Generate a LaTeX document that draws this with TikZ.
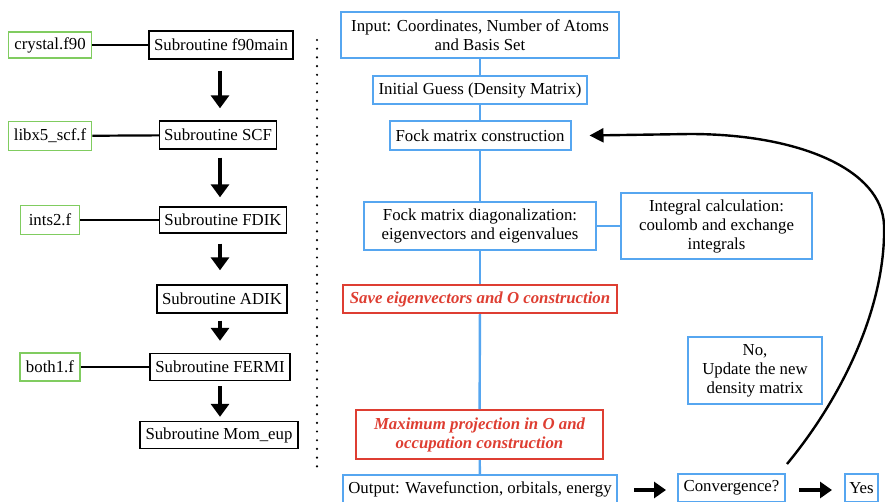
\documentclass[tikz,border=0pt]{standalone}
\usepackage{fontspec}
\setmainfont{Liberation Serif}
\newfontfamily\serifx{Liberation Serif}
\usetikzlibrary{arrows.meta}
\definecolor{bluebox}{RGB}{86,166,240}
\definecolor{redbox}{RGB}{222,62,50}
\definecolor{greenbox}{RGB}{128,204,96}
\begin{document}
\begin{tikzpicture}[x=1pt,y=-1pt,
  base/.style={font=\serifx\fontsize{16.8}{19}\selectfont, inner sep=0pt, align=center},
  sub/.style={base, draw=black, line width=1.4pt},
  file/.style={base, draw=greenbox, line width=1.8pt},
  proc/.style={base, draw=bluebox, line width=2pt},
  hl/.style={base, draw=redbox, line width=2pt, text=redbox, font=\serifx\fontsize{16.8}{19}\selectfont\bfseries\itshape},
  link/.style={line width=2.2pt},
  bluelink/.style={draw=bluebox, line width=2.4pt},
  flow/.style={line width=3.6pt, -{Triangle[width=18pt,length=13pt]}},
  hflow/.style={line width=3.4pt, -{Triangle[width=16pt,length=12pt]}},
  dotline/.style={line width=2.4pt, line cap=round, dash pattern=on 0pt off 8.7pt}]
\useasboundingbox (0,0) rectangle (885,501);
\clip (0,0) rectangle (885,501);

% left column
\node[file, minimum width=83pt, minimum height=26pt] (crystal) at (50,45) {crystal.f90};
\node[sub, minimum width=144pt, minimum height=28pt] (f90) at (221,45) {Subroutine f90main};
\node[file, minimum width=83pt, minimum height=29pt] (libx) at (50,136) {libx5\_scf.f};
\node[sub, minimum width=117pt, minimum height=28pt] (scf) at (218,135) {Subroutine SCF};
\node[file, minimum width=59pt, minimum height=29pt] (ints) at (50,220) {ints2.f};
\node[sub, minimum width=127pt, minimum height=26pt] (fdik) at (223,220) {Subroutine FDIK};
\node[sub, minimum width=130pt, minimum height=28pt] (adik) at (222,299) {Subroutine ADIK};
\node[file, minimum width=60pt, minimum height=28pt] (both) at (50,367) {both1.f};
\node[sub, minimum width=140pt, minimum height=27pt] (fermi) at (220,367) {Subroutine FERMI};
\node[sub, minimum width=158pt, minimum height=27pt] (mom) at (219,435) {Subroutine Mom\_eup};

\draw[link] (crystal) -- (f90);
\draw[link] (libx) -- (scf);
\draw[link] (ints) -- (fdik);
\draw[link] (both) -- (fermi);

\draw[flow, shorten <=11pt, shorten >=12pt] (f90.south -| 220,0) -- (scf.north -| 220,0);
\draw[flow, shorten <=8pt, shorten >=9pt] (scf.south -| 220,0) -- (fdik.north -| 220,0);
\draw[flow, shorten <=10pt, shorten >=14pt] (fdik.south -| 220,0) -- (adik.north -| 220,0);
\draw[flow, shorten <=7pt, shorten >=12pt] (adik.south -| 220,0) -- (fermi.north -| 220,0);
\draw[flow, shorten <=5pt, shorten >=4pt] (fermi.south -| 220,0) -- (mom.north -| 220,0);

% separator
\draw[dotline] (317,40) -- (317,470);

% right column
\node[proc, minimum width=278pt, minimum height=46pt] (input) at (480,35) {Input: Coordinates, Number of Atoms\\and Basis Set};
\node[proc, minimum width=214pt, minimum height=28pt] (guess) at (480,90) {Initial Guess (Density Matrix)};
\node[proc, minimum width=181pt, minimum height=29pt] (fock) at (480,135.5) {Fock matrix construction};
\node[proc, minimum width=232pt, minimum height=48pt] (diag) at (480,226) {Fock matrix diagonalization:\\eigenvectors and eigenvalues};
\node[proc, minimum width=191pt, minimum height=66pt] (integ) at (716.5,226) {Integral calculation:\\coulomb and exchange\\integrals};
\node[hl, minimum width=274pt, minimum height=28pt] (save) at (480,299) {Save eigenvectors and O construction};
\node[hl, minimum width=247pt, minimum height=49pt] (maxp) at (479.5,434.5) {Maximum projection in O and\\occupation construction};
\node[proc, minimum width=274pt, minimum height=28pt] (output) at (480,489) {Output: Wavefunction, orbitals, energy};
\node[proc, minimum width=107pt, minimum height=28pt] (conv) at (731.5,488) {Convergence?};
\node[proc, minimum width=33pt, minimum height=28pt] (yes) at (861.5,488) {Yes};
\node[proc, minimum width=134pt, minimum height=67pt] (upd) at (755,370.5) {No,\\Update the new\\density matrix};

\draw[bluelink] (input) -- (guess);
\draw[bluelink] (guess) -- (fock);
\draw[bluelink] (fock) -- (diag);
\draw[bluelink] (diag) -- (save);
\draw[bluelink] (save) -- (maxp);
\draw[bluelink] (maxp) -- (output);
\draw[bluelink] (diag) -- (integ);

\draw[hflow, shorten <=16pt, shorten >=11pt] (output.east |- 0,490) -- (conv.west |- 0,490);
\draw[hflow, shorten <=13pt, shorten >=12pt] (conv.east |- 0,490) -- (yes.west |- 0,490);

\coordinate (cs) at (787,464);
\coordinate (ce) at ([xshift=18pt]fock.east);
\draw[line width=2.4pt, -{Triangle[width=14pt,length=14pt]}] (cs) .. controls (848,390) and (886,300) .. (884,225) .. controls (882,170) and (800,134) .. (690,134) -- (ce);
\end{tikzpicture}
\end{document}
